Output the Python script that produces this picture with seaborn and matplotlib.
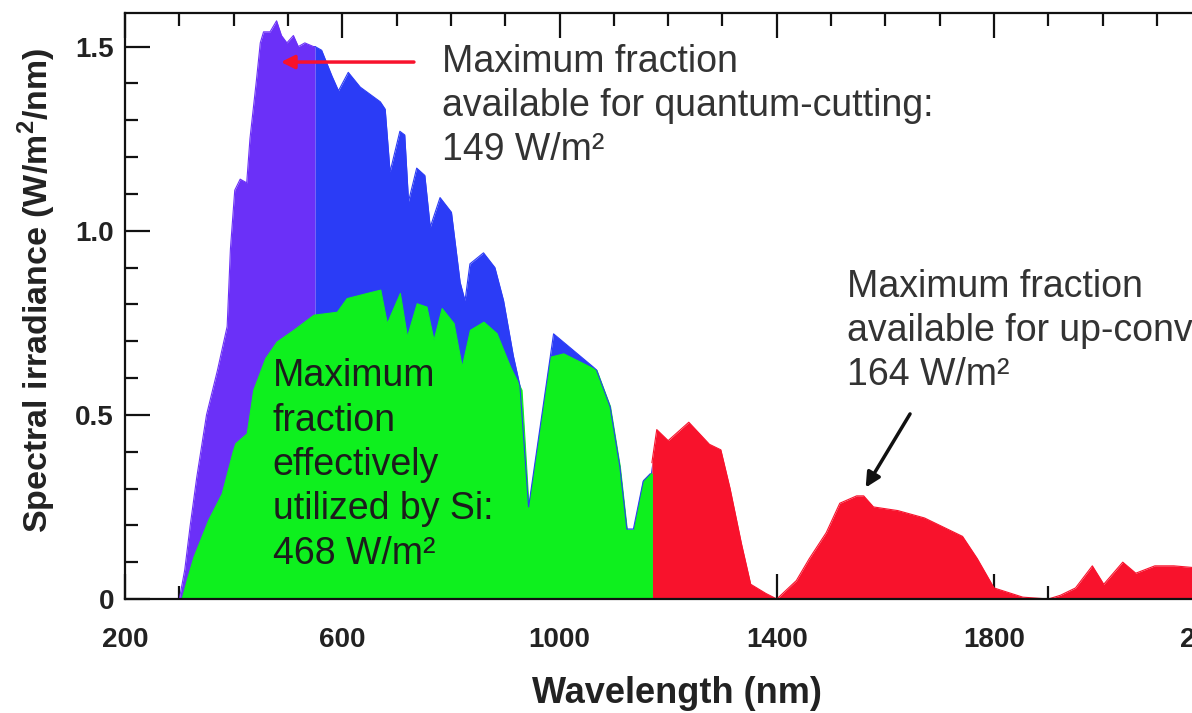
import numpy as np
import pandas as pd
import matplotlib
matplotlib.use("Agg")
import matplotlib.pyplot as plt
from matplotlib.ticker import MultipleLocator
import seaborn as sns

# AM1.5 spectrum outline
total_wl = [300, 310, 320, 332, 350, 370, 388, 394, 402, 412, 424, 430, 442, 449, 455, 467,
            479, 488, 498, 510, 519, 531, 547, 550, 562, 581, 593, 611, 633, 670, 679, 688,
            706, 715, 722, 737, 752, 762, 780, 801, 817, 826, 835, 860, 881, 897, 915, 927,
            943, 989, 1062, 1068, 1093, 1111, 1124, 1136, 1154, 1167, 1170, 1179, 1200, 1238,
            1276, 1297, 1314, 1335, 1352, 1380, 1400, 1436, 1460, 1491, 1516, 1547, 1560, 1578,
            1623, 1672, 1742, 1769, 1800, 1853, 1900, 1922, 1950, 1981, 2002, 2037, 2061, 2096,
            2131, 2170, 2250]
total_irr = [0.0, 0.08, 0.2, 0.33, 0.5, 0.62, 0.74, 0.95, 1.11, 1.14, 1.13, 1.25, 1.41, 1.51, 1.54, 1.54,
             1.57, 1.53, 1.51, 1.53, 1.50, 1.51, 1.50, 1.50, 1.49, 1.42, 1.38, 1.43, 1.39, 1.35, 1.33, 1.16,
             1.27, 1.26, 1.08, 1.17, 1.15, 1.01, 1.09, 1.05, 0.86, 0.81, 0.91, 0.94, 0.90, 0.81, 0.66, 0.58,
             0.25, 0.72, 0.63, 0.622, 0.523, 0.36, 0.19, 0.19, 0.32, 0.34, 0.37, 0.46, 0.43, 0.48,
             0.42, 0.405, 0.30, 0.15, 0.04, 0.015, 0.0, 0.05, 0.11, 0.18, 0.26, 0.28, 0.28, 0.25,
             0.24, 0.22, 0.17, 0.11, 0.03, 0.005, 0.0, 0.01, 0.03, 0.09, 0.04, 0.10, 0.07, 0.09,
             0.09, 0.085, 0.08]

# part usable by Si
si_wl = [304, 315, 326, 353, 378, 398, 403, 424, 436, 458, 479, 510, 547, 590, 608, 645, 670,
         682, 706, 719, 737, 755, 768, 783, 805, 820, 835, 860, 884, 909, 930, 943, 983, 1007,
         1068, 1093, 1111, 1124, 1136, 1154, 1167, 1170]
si_irr = [0.0, 0.06, 0.115, 0.215, 0.287, 0.40, 0.423, 0.45, 0.568, 0.654, 0.699, 0.731, 0.772,
          0.78, 0.817, 0.831, 0.84, 0.749, 0.831, 0.713, 0.803, 0.794, 0.704, 0.79, 0.749, 0.631,
          0.731, 0.753, 0.722, 0.631, 0.568, 0.25, 0.658, 0.667, 0.622, 0.523, 0.36, 0.1875,
          0.1875, 0.323, 0.3415, 0.34]

qc_edge = 550      # quantum-cutting limit
si_edge = 1170     # Si band gap limit
xtick_vals = [200, 600, 1000, 1400, 1800, 2200]
ytick_vals = [0, 0.5, 1.0, 1.5]
ytick_labels = ["0", "0.5", "1.0", "1.5"]

purple = "#6B30F8"
blue = "#2B3CF6"
green = "#0EF01E"
red = "#F8122C"

sns.set_theme(style="ticks")
plt.rcParams["font.family"] = ["Liberation Sans", "DejaVu Sans"]

df = pd.DataFrame({"wl": total_wl, "irr": total_irr})
df["region"] = np.where(df.wl <= qc_edge, "qc", np.where(df.wl < si_edge, "si", "uc"))
# repeat boundary points so the outlines meet
extra = df[df.wl.isin([qc_edge, si_edge])].copy()
extra["region"] = np.where(extra.wl == qc_edge, "si", "uc")
df = pd.concat([df, extra]).sort_values("wl")

fig = plt.figure(figsize=(11.92, 7.13), dpi=100)
ax = fig.add_axes([0.1049, 0.1599, 1.0024, 0.8223])

wl = np.array(total_wl)
irr = np.array(total_irr)
ax.fill_between(wl, irr, where=wl <= qc_edge, color=purple, lw=0)
ax.fill_between(wl, irr, where=(wl >= qc_edge) & (wl <= si_edge), color=blue, lw=0)
ax.fill_between(wl, irr, where=wl >= si_edge, color=red, lw=0)
sns.lineplot(data=df, x="wl", y="irr", hue="region", palette={"qc": purple, "si": blue, "uc": red},
             lw=0.8, legend=False, ax=ax, estimator=None)
ax.fill_between(si_wl, si_irr, color=green, lw=0.8, edgecolor=green)

ax.set_xlim(200, 2400)
ax.set_ylim(0, 1.592)
ax.set_xticks(xtick_vals)
ax.set_yticks(ytick_vals, labels=ytick_labels)
ax.xaxis.set_minor_locator(MultipleLocator(100))
ax.yaxis.set_minor_locator(MultipleLocator(0.1))
ax.tick_params(which="both", direction="in", top=True, right=True, width=1.6, color="#111111")
ax.tick_params(which="major", length=18)
ax.tick_params(which="minor", length=9.5)
ax.tick_params(axis="x", pad=20, labelsize=20)
ax.tick_params(axis="y", pad=8, labelsize=20)
for lab in ax.get_xticklabels() + ax.get_yticklabels():
    lab.set_fontweight("bold")
    lab.set_color("#222222")
for sp in ax.spines.values():
    sp.set_linewidth(1.6)
    sp.set_color("#111111")

ax.set_xlabel("Wavelength (nm)", fontsize=26, fontweight="bold", color="#222222")
ax.set_ylabel("Spectral irradiance (W/m$^\\mathregular{2}$/nm)", fontsize=24.5, fontweight="bold",
              color="#222222")
W = 1.0024 * 1192
H = 0.8223 * 713
ax.xaxis.set_label_coords((677 - 125) / W, (599 - 676) / H)
ax.yaxis.set_label_coords((58 - 125) / W, (599 - 290) / H)

txt = dict(fontsize=27, color="#333333", ha="left", va="top", linespacing=1.3)
ax.text(784, 1.508, "Maximum fraction\navailable for quantum-cutting:\n149 W/m²", **txt)
ax.text(472, 0.654, "Maximum\nfraction\neffectively\nutilized by Si:\n468 W/m²",
        **{**txt, "color": "#1c1c1c"})
ax.text(1529, 0.897, "Maximum fraction\navailable for up-conversion:\n164 W/m²", **txt)

ax.annotate("", xy=(482, 1.458), xytext=(737, 1.458),
            arrowprops=dict(arrowstyle="-|>", color=red, lw=2.5, mutation_scale=20))
ax.annotate("", xy=(1561, 0.296), xytext=(1648, 0.509),
            arrowprops=dict(arrowstyle="-|>", color="#111111", lw=2.5, mutation_scale=22))

plt.savefig("out.png", dpi=100)
